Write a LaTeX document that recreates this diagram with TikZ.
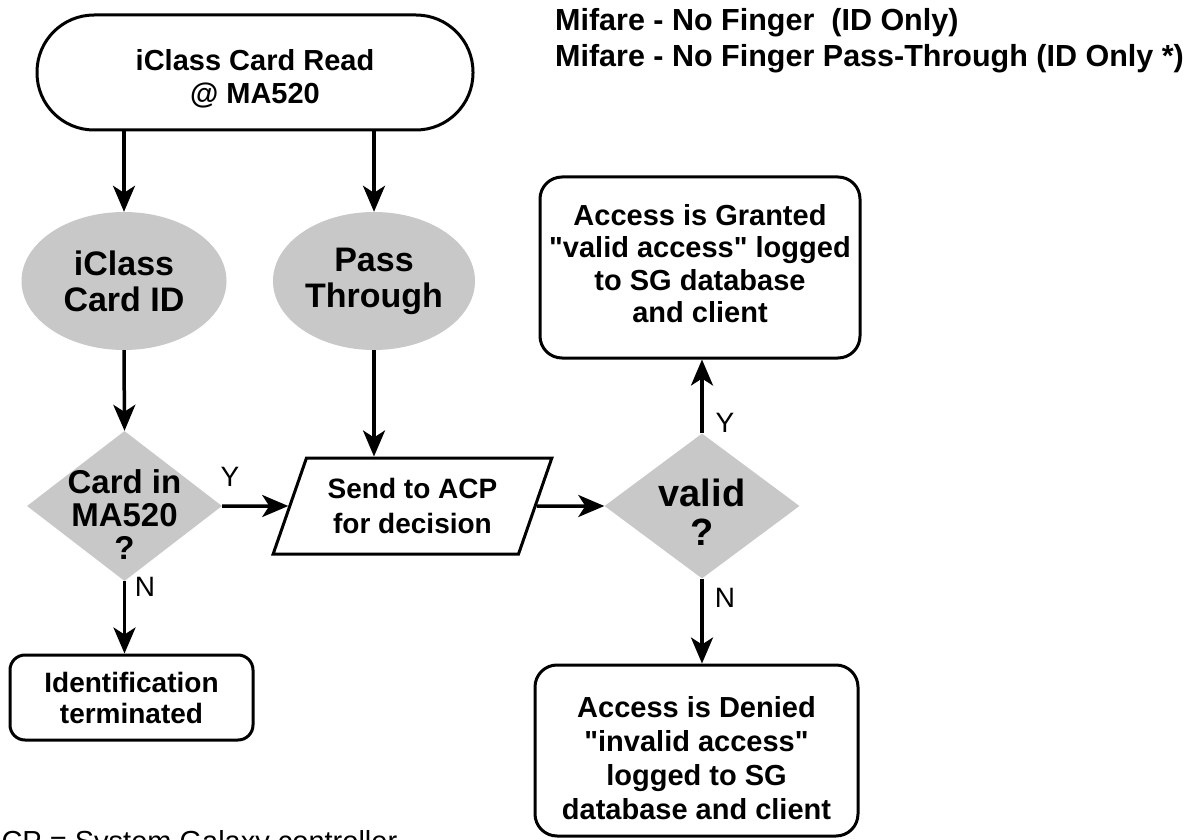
\documentclass[tikz,border=0pt]{standalone}
\usepackage{fontspec}
\setmainfont{Liberation Sans}[Ligatures=TeXOff]
\usetikzlibrary{arrows.meta,shapes.geometric}
\definecolor{shade}{RGB}{200,200,200}
\begin{document}
\begin{tikzpicture}[x=1pt,y=-1pt,
  boxline/.style={draw=black, line width=3pt},
  term/.style={boxline, rectangle, rounded corners=57pt, minimum width=436pt, minimum height=115pt, inner sep=0pt},
  rbox/.style={boxline, rectangle, rounded corners=22pt, inner sep=0pt},
  oval/.style={ellipse, fill=shade, draw=none, minimum width=205pt, minimum height=138pt, inner sep=0pt, align=center, font=\bfseries\fontsize{34}{36}\selectfont},
  decide/.style={diamond, fill=shade, draw=none, inner sep=0pt},
  para/.style={boxline, trapezium, trapezium left angle=65.4, trapezium right angle=114.6, trapezium stretches=true, minimum width=279pt, minimum height=96pt, inner sep=2pt, align=center, font=\bfseries\fontsize{28}{35}\selectfont},
  txt/.style={align=center, inner sep=0pt, font=\bfseries\fontsize{29}{33}\selectfont},
  lbl/.style={inner sep=0pt, font=\fontsize{28}{30}\selectfont},
  arr/.style={line width=3.5pt, -{Stealth[length=26pt, width=22pt, inset=7pt]}}
]
\clip (0,0) rectangle (1200,840);
\fill[white] (0,0) rectangle (1200,840);

% shapes
\node[term] (term) at (255,72.5) {};
\node[txt] (termtext) at (255,78.5) {iClass Card Read\\@ MA520};

\node[oval] (iclass) at (124,281) {iClass\\Card ID};
\node[oval, minimum width=202pt] (pass) at (374,281) {Pass\\Through};

\node[decide, minimum width=195pt, minimum height=150pt] (d1) at (124.5,506) {};
\node[txt, font=\bfseries\fontsize{33}{33}\selectfont] (d1text) at (124.5,515) {Card in\\MA520\\?};

\node[para] (send) at (412.5,506) {Send to ACP\\for decision};

\node[decide, minimum width=195pt, minimum height=145pt] (valid) at (702,506) {};
\node[txt, font=\bfseries\fontsize{38}{39}\selectfont] (validtext) at (702,512.5) {valid\\?};

\node[rbox, rounded corners=15pt, minimum width=243pt, minimum height=85pt, align=center, font=\bfseries\fontsize{28}{31}\selectfont] (ident) at (131.5,697.5) {Identification\\terminated};

\node[rbox, minimum width=320pt, minimum height=181pt] (granted) at (700,267.5) {};
\node[txt, font=\bfseries\fontsize{29}{32.3}\selectfont] (grantedtext) at (700,263.5) {Access is Granted\\"valid access" logged\\to SG database\\and client};

\node[rbox, minimum width=323pt, minimum height=171pt] (denied) at (696.5,750.5) {};
\node[txt, font=\bfseries\fontsize{29}{34}\selectfont] (deniedtext) at (696.5,758) {Access is Denied\\"invalid access"\\logged to SG\\database and client};

% top title
\node[anchor=west, align=left, inner sep=0pt, font=\bfseries\fontsize{30.5}{36}\selectfont] (title) at (555,41) {Mifare - No Finger\ \ (ID Only)\\Mifare - No Finger Pass-Through (ID Only *)};

% connectors
\draw[arr] (iclass |- term.south) -- (iclass.north);
\draw[arr] (pass |- term.south) -- (pass.north);
\draw[arr] (iclass.south) -- (d1.north);
\draw[arr] (d1.east) -- (send.west);
\draw[arr] (pass.south) -- (pass.south |- send.north);
\draw[arr] (send.east) -- (valid.west);
\draw[arr] (valid.north) -- (valid.north |- granted.south);
\draw[arr] (valid.south) -- (valid.south |- denied.north);
\draw[arr] (d1.south) -- (d1.south |- ident.north);

% edge labels
\node[lbl] (y1) at (230,477) {Y};
\node[lbl] (n1) at (145,587) {N};
\node[lbl] (y2) at (725,423) {Y};
\node[lbl] (n2) at (725,598) {N};

% footnote (cut off at the bottom, as in the reference)
\node[anchor=base west, inner sep=0pt, font=\fontsize{29}{33}\selectfont] (note) at (-18,851) {ACP = System Galaxy controller};
\end{tikzpicture}
\end{document}
